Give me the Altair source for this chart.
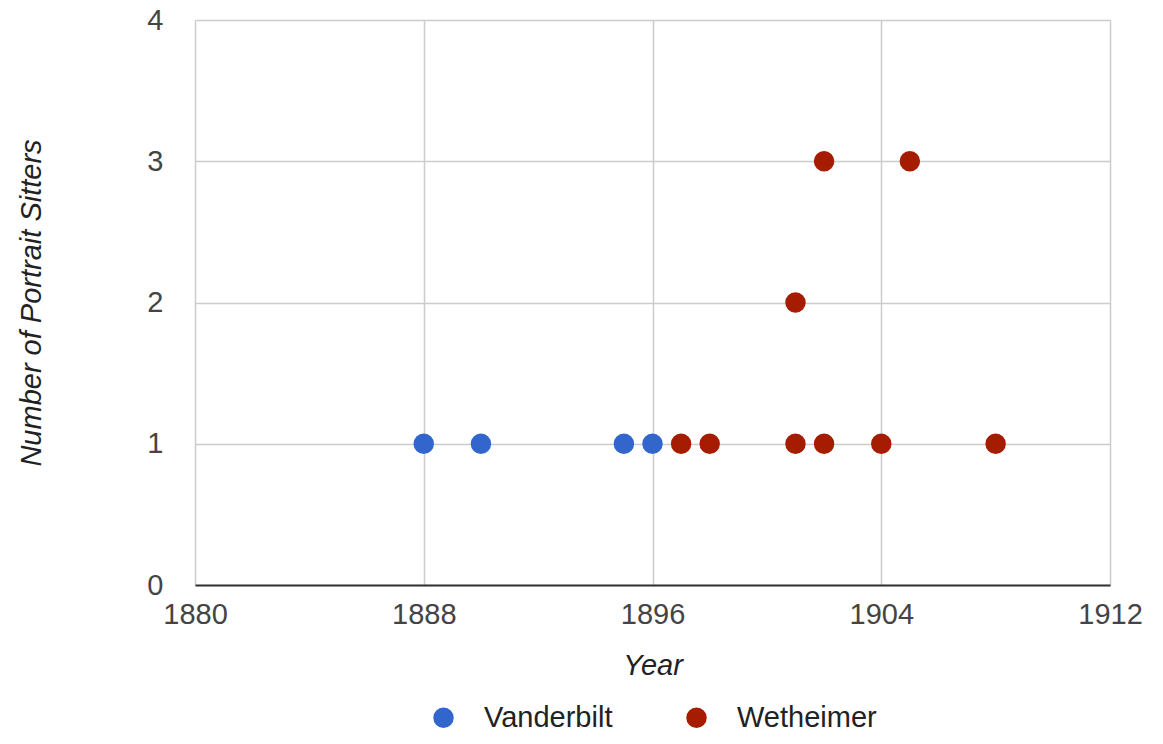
import altair as alt
import pandas as pd

series = ["Vanderbilt"] * 4 + ["Wetheimer"] * 9
years = [1888, 1890, 1895, 1896, 1897, 1898, 1901, 1901, 1902, 1902, 1904, 1905, 1908]
sitters = [1, 1, 1, 1, 1, 1, 1, 2, 1, 3, 1, 3, 1]

df = pd.DataFrame({"Series": series, "Year": years, "Sitters": sitters})

FONT = "Liberation Sans, Arial, sans-serif"
FS = 29

chart = alt.Chart(df).mark_circle(size=420, opacity=1).encode(
    x=alt.X("Year:Q", title="Year",
            scale=alt.Scale(domain=[1880, 1912], nice=False, zero=False),
            axis=alt.Axis(values=[1880, 1888, 1896, 1904, 1912], format="d",
                          ticks=False, labelPadding=15, titlePadding=22, labelFlush=False,
                          domainColor="#333333", domainWidth=2,
                          labelFontSize=FS, titleFontSize=FS, titleFontStyle="italic",
                          titleFontWeight="normal", labelColor="#444444", titleColor="#222222",
                          gridColor="#cccccc", gridWidth=1.5)),
    y=alt.Y("Sitters:Q", title="Number of Portrait Sitters",
            scale=alt.Scale(domain=[0, 4], nice=False),
            axis=alt.Axis(values=[0, 1, 2, 3, 4], format="d", ticks=False, domain=False,
                          labelPadding=32, titlePadding=100,
                          labelFontSize=FS, titleFontSize=FS, titleFontStyle="italic",
                          titleFontWeight="normal", labelColor="#444444", titleColor="#222222",
                          gridColor="#cccccc", gridWidth=1.5)),
    color=alt.Color("Series:N",
                    scale=alt.Scale(domain=["Vanderbilt", "Wetheimer"], range=["#3366CC", "#A61C00"]),
                    legend=alt.Legend(title=None, orient="none", direction="horizontal",
                                      legendX=234, legendY=683, symbolType="circle",
                                      symbolSize=420, labelFontSize=FS, labelColor="#222222",
                                      columnPadding=69, labelOffset=26, symbolOpacity=1)),
).properties(
    width=915, height=565,
    autosize=alt.AutoSizeParams(type="none"),
    padding={"left": 187, "top": 12, "right": 44, "bottom": 151},
).configure_view(stroke="#cccccc", strokeWidth=1.5).configure(font=FONT)

chart.save("out.html", embed_options={"renderer": "svg", "actions": False})
